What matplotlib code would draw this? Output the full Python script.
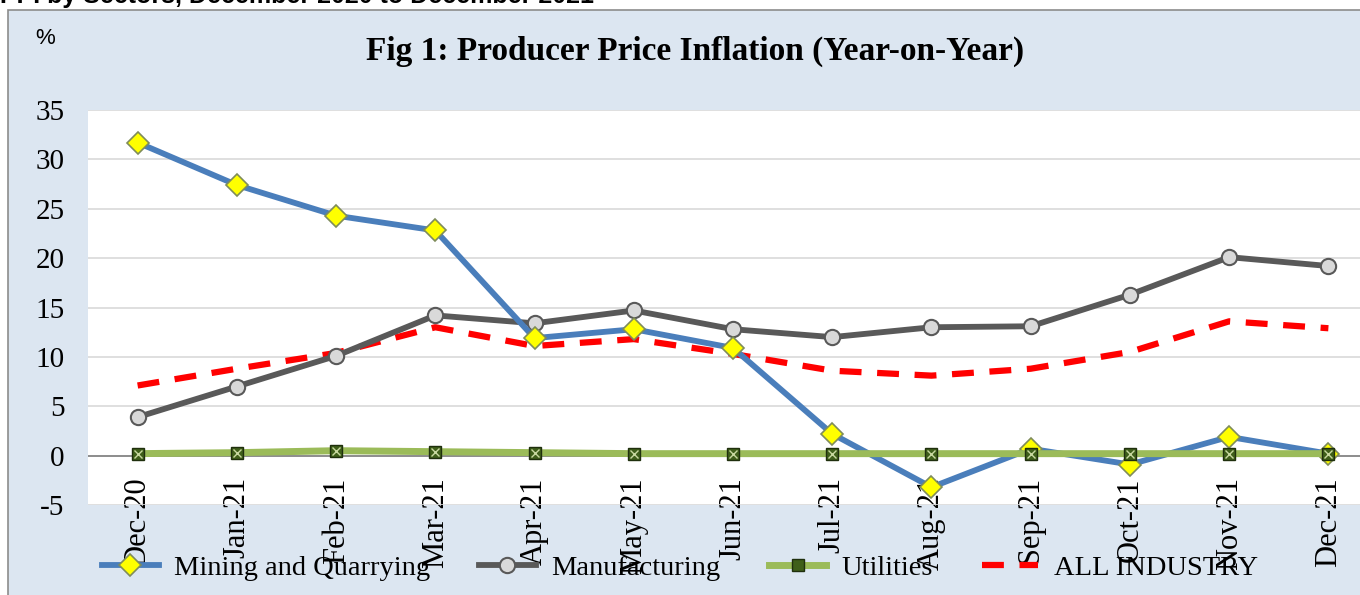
import numpy as np
import matplotlib
matplotlib.use("Agg")
import matplotlib.pyplot as plt
from matplotlib.patches import Rectangle

# Data
months = ['Dec-20', 'Jan-21', 'Feb-21', 'Mar-21', 'Apr-21', 'May-21', 'Jun-21',
          'Jul-21', 'Aug-21', 'Sep-21', 'Oct-21', 'Nov-21', 'Dec-21']
mining = [31.7, 27.4, 24.3, 22.8, 11.9, 12.8, 10.9, 2.2, -3.2, 0.7, -0.9, 1.9, 0.2]
manufacturing = [3.9, 7.0, 10.1, 14.2, 13.4, 14.7, 12.8, 12.0, 13.0, 13.1, 16.3, 20.1, 19.2]
utilities = [0.2, 0.3, 0.5, 0.4, 0.3, 0.2, 0.2, 0.2, 0.2, 0.2, 0.2, 0.2, 0.2]
all_industry = [7.1, 8.8, 10.4, 13.0, 11.1, 11.8, 10.3, 8.6, 8.1, 8.8, 10.5, 13.6, 12.9]
y_ticks = [-5, 0, 5, 10, 15, 20, 25, 30, 35]

serif = ['Liberation Serif', 'DejaVu Serif']
bg = '#dce6f1'

fig = plt.figure(figsize=(13.6, 5.95), dpi=100)
fig.patch.set_facecolor('white')

# chart area box (cut off at right and bottom like the source)
box = Rectangle((8 / 1360, -0.05), 1.1, 1 - 10 / 595 + 0.05,
                transform=fig.transFigure, facecolor=bg,
                edgecolor='#8c8c8c', linewidth=1.2, zorder=-5)
fig.patches.append(box)

# clipped caption above the chart
fig.text(0.0, 1.006, 'PPI by Sectors, December 2020 to December 2021',
         fontsize=18, fontweight='bold', family=['Liberation Sans', 'DejaVu Sans'],
         ha='left', va='center')

ax = fig.add_axes([88 / 1360, 90 / 595, 1290 / 1360, 395 / 595])
ax.set_zorder(1)
ax.set_facecolor('white')
x = np.arange(len(months))

ax.plot(x, mining, color='#4a7ebb', lw=4.2, marker='D', ms=11,
        mfc='#ffff00', mec='#7f8c5a', mew=1.2, zorder=4, label='Mining and Quarrying')
ax.plot(x, manufacturing, color='#595959', lw=4.2, marker='o', ms=11,
        mfc='#d9d9d9', mec='#595959', mew=1.5, zorder=3, label='Manufacturing')
ax.plot(x, utilities, color='#9bbb59', lw=5, marker='s', ms=9,
        mfc='#3f5f1a', mec='#1f2f0d', mew=1, zorder=5, label='Utilities')
ax.plot(x, utilities, ls='none', marker='x', ms=6, mec='#c8d8a0', mew=1, zorder=6)
ax.plot(x, all_industry, color='#ff0000', lw=4.5, ls=(0, (3.5, 2.5)), zorder=2,
        label='ALL INDUSTRY')

ax.set_xlim(-0.5, 12.5)
ax.set_ylim(-5, 35)
ax.set_yticks(y_ticks)
ax.set_yticklabels([str(v) for v in y_ticks], fontsize=21, family=serif)
ax.set_xticks(x)
ax.set_xticklabels(months, rotation=90, fontsize=22, family=serif, va='top')
ax.tick_params(axis='both', length=0)
ax.tick_params(axis='x', pad=-20)
ax.tick_params(axis='y', pad=17)

ax.grid(axis='y', color='#d9d9d9', lw=1.2)
ax.axhline(0, color='#808080', lw=1.2, zorder=1)
for s in ax.spines.values():
    s.set_visible(False)
ax.set_axisbelow(True)

fig.text(45 / 1360, 1 - 38 / 595, '%', fontsize=16, family=['Liberation Sans'],
         ha='center', va='center')
fig.text(695 / 1360, 1 - 51 / 595, 'Fig 1: Producer Price Inflation (Year-on-Year)',
         fontsize=24, fontweight='bold', family=serif, ha='center', va='center')

handles, labels = ax.get_legend_handles_labels()
leg = fig.legend(handles, labels, loc='center', bbox_to_anchor=(0.5, 0.045), ncol=4,
                 frameon=False, prop={'family': serif, 'size': 20.5},
                 handlelength=2.0, columnspacing=1.7, handletextpad=0.55)
leg.set_zorder(10)

fig.savefig('out.png', dpi=100, facecolor=fig.get_facecolor())
